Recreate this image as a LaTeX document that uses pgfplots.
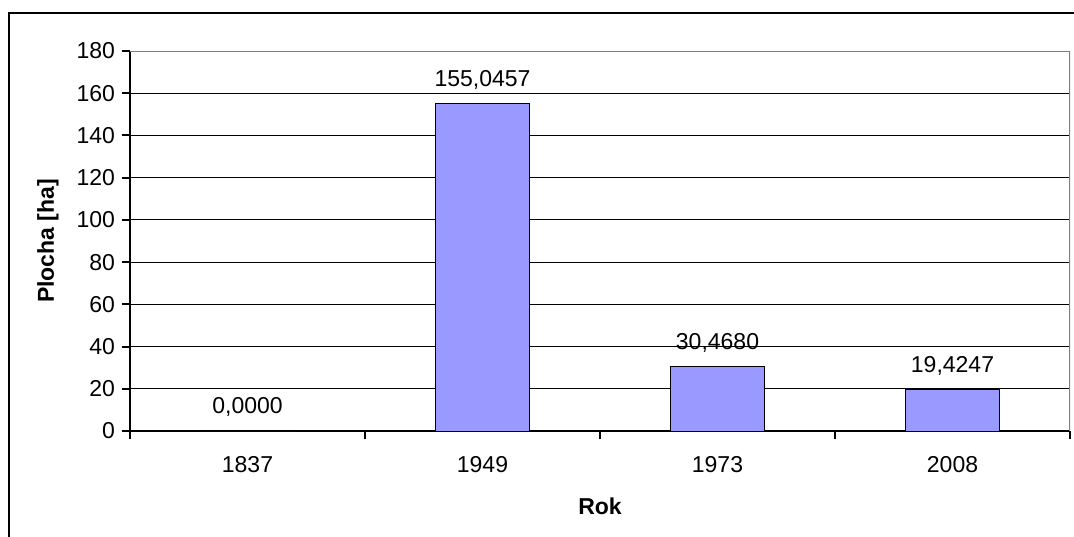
\documentclass[border=0pt]{standalone}
\usepackage{fontspec}
\setmainfont{Liberation Sans}
\usepackage{pgfplots}
\pgfplotsset{compat=1.18}
\definecolor{barfill}{HTML}{9999FF}
\begin{document}
\begin{tikzpicture}[font=\fontsize{11.5}{13.5}\selectfont]
\useasboundingbox (0,0) rectangle (537pt,268pt);
% chart frame (left and top edges fall inside the page)
\draw[line width=1pt] (4.5pt,-5pt) -- (4.5pt,261.5pt) -- (545pt,261.5pt);
\begin{axis}[
  at={(65pt,52.5pt)}, anchor=south west,
  scale only axis, width=470pt, height=190pt,
  ymin=0, ymax=180, ytick={0,20,...,180},
  xmin=-0.5, xmax=3.5,
  xtick={-0.5,0.5,1.5,2.5,3.5},
  x tick label as interval,
  xticklabels={1837,1949,1973,2008},
  xticklabel style={yshift=-5pt},
  axis x line*=bottom, axis y line*=left,
  axis line style={line width=1pt, black, -},
  tick style={line width=1pt, black},
  tick align=outside, major tick length=4pt,
  ymajorgrids, grid style={black, line width=0.5pt},
  /pgf/number format/assume math mode=true,
  ybar, bar width=47pt,
  xlabel={\textbf{Rok}},
  ylabel={\textbf{Plocha [ha]}},
  every axis x label/.style={at={(axis description cs:0.5,0)}, anchor=center, yshift=-37.5pt},
  every axis y label/.style={at={(axis description cs:-0.0873,0.5)}, anchor=center, rotate=90},
  nodes near coords={\pgfmathprintnumber[fixed, fixed zerofill, precision=4, use comma]{\pgfplotspointmeta}},
  nodes near coords style={anchor=south, inner sep=0pt, yshift=7pt, text=black},
]
\addplot[fill=barfill, draw=black, line width=0.5pt]
  coordinates {(0,0) (1,155.0457) (2,30.4680) (3,19.4247)};
% plot-area border on the top and right
\draw[gray, line width=1pt] (rel axis cs:0,1) -- (rel axis cs:1,1) -- (rel axis cs:1,0);
\end{axis}
\end{tikzpicture}
\end{document}
